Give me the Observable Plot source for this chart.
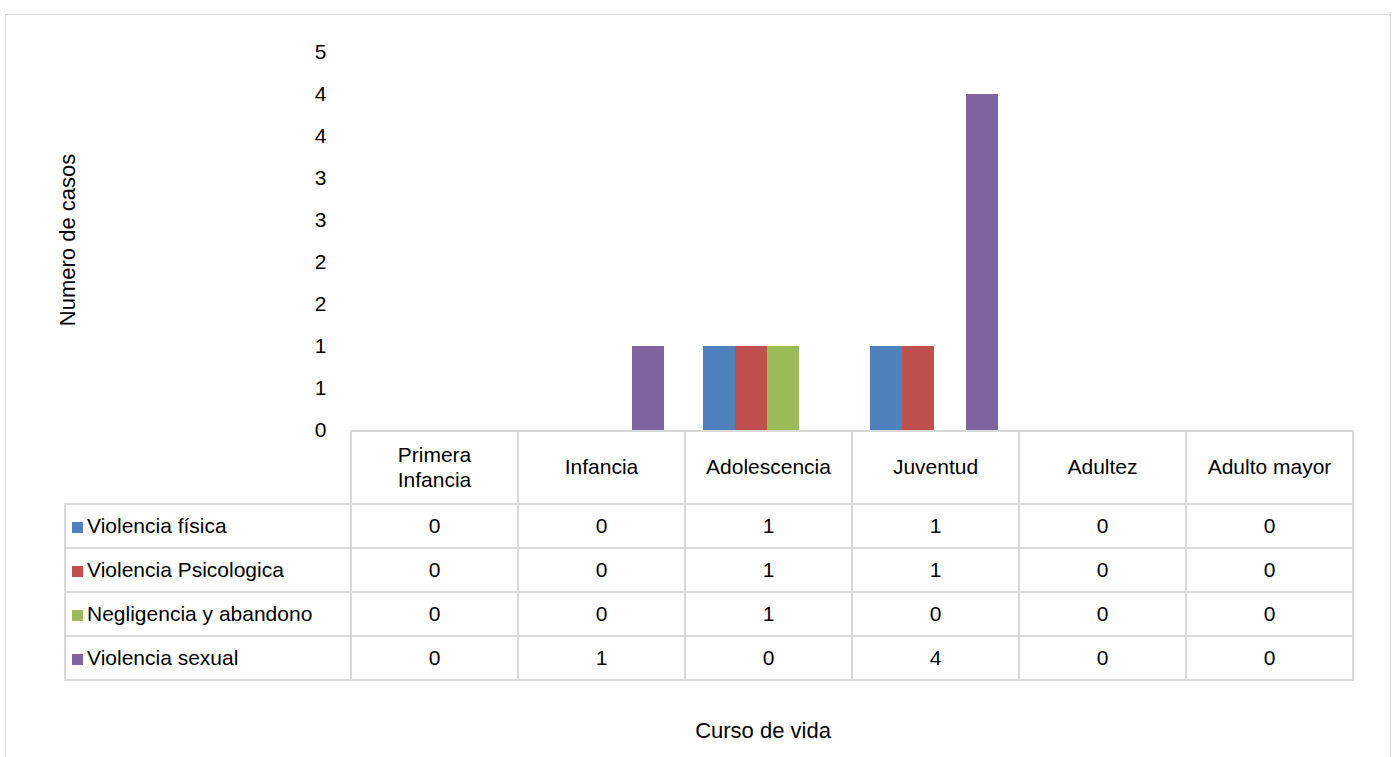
<!DOCTYPE html>
<html><head><meta charset="utf-8">
<script src="https://cdn.jsdelivr.net/npm/d3@7"></script>
<script src="https://cdn.jsdelivr.net/npm/@observablehq/plot@0.6"></script>
<style>
body{margin:0;background:#fff;font-family:"Liberation Sans",Arial,sans-serif;}
#frame{position:absolute;left:5px;top:14px;width:1384px;height:750px;border:1px solid #d9d9d9;border-bottom:none;}
#chart{position:absolute;left:0;top:0;}
#ytitle{position:absolute;left:68px;top:240px;transform:translate(-50%,-50%) rotate(-90deg);font-size:22px;white-space:nowrap;}
#xtitle{position:absolute;left:763px;top:731px;transform:translate(-50%,-50%);font-size:22px;}
table{position:absolute;left:64px;top:430px;border-collapse:collapse;font-size:21px;table-layout:fixed;width:1289px;}
td{border:2px solid #d9d9d9;text-align:center;padding:0;height:42px;}
td.lab{text-align:left;padding-left:6px;white-space:nowrap;}
tr.head td{height:71px;line-height:1.15;}
tr.head td.blank{border:none;border-right:2px solid #d9d9d9;}
.sw{display:inline-block;width:11px;height:11px;margin-right:4px;}
</style></head>
<body>
<div id="frame"></div>
<div id="chart"></div>
<div id="ytitle">Numero de casos</div>
<div id="xtitle">Curso de vida</div>
<script>
const categories = ["Primera Infancia", "Infancia", "Adolescencia", "Juventud", "Adultez", "Adulto mayor"];
const series = ["Violencia física", "Violencia Psicologica", "Negligencia y abandono", "Violencia sexual"];
const colors = ["#4f81bd", "#c0504d", "#9bbb59", "#8064a2"];
const fisica = [0, 0, 1, 1, 0, 0];
const psicologica = [0, 0, 1, 1, 0, 0];
const negligencia = [0, 0, 1, 0, 0, 0];
const sexual = [0, 1, 0, 4, 0, 0];
const yTicks = [0, 0.5, 1, 1.5, 2, 2.5, 3, 3.5, 4, 4.5];

const values = [fisica, psicologica, negligencia, sexual];
const data = [];
series.forEach((s, i) => categories.forEach((c, j) => data.push({cat: c, serie: s, v: values[i][j]})));

const chart = Plot.plot({
  width: 1395, height: 431,
  marginLeft: 348, marginRight: 43, marginTop: 52, marginBottom: 1,
  style: {fontFamily: '"Liberation Sans", Arial, sans-serif', fontSize: 21, color: "black", overflow: "visible"},
  fx: {domain: categories, padding: 0, axis: null},
  x: {domain: series, paddingInner: 0, paddingOuter: 0.6, axis: null},
  y: {domain: [0, 4.5], axis: null},
  color: {domain: series, range: colors},
  marks: [
    Plot.axisY({ticks: yTicks, tickFormat: d => String(Math.round(d)), tickSize: 0, tickPadding: 23, label: null, facetAnchor: "left", fontSize: 21}),
    Plot.barY(data.filter(d => d.v > 0), {fx: "cat", x: "serie", y: "v", fill: "serie"})
  ]
});
d3.select("#chart").append(() => chart);

const table = d3.select("body").append("table");
const cg = table.append("colgroup");
cg.append("col").style("width", "286px");
categories.forEach(() => cg.append("col").style("width", "167px"));
const head = table.append("tr").attr("class", "head");
head.append("td").attr("class", "lab blank");
categories.forEach(c => head.append("td").html(c === "Primera Infancia" ? "Primera<br>Infancia" : c));
series.forEach((s, i) => {
  const tr = table.append("tr");
  tr.append("td").attr("class", "lab").html(`<span class="sw" style="background:${colors[i]}"></span>${s}`);
  values[i].forEach(v => tr.append("td").text(v));
});
</script>
</body></html>
